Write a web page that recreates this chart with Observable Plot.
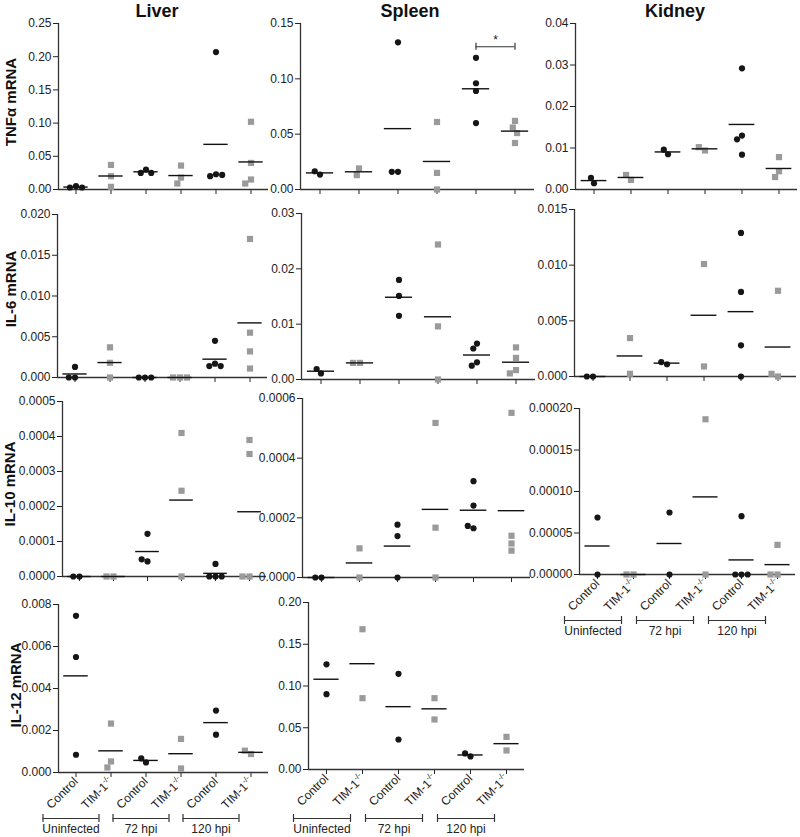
<!DOCTYPE html>
<html><head><meta charset="utf-8">
<script src="https://cdn.jsdelivr.net/npm/d3@7"></script>
<script src="https://cdn.jsdelivr.net/npm/@observablehq/plot@0.6"></script>
<style>
html,body{margin:0;padding:0;background:#fff;overflow:hidden}
#root{position:relative;width:800px;height:837px;font-family:"Liberation Sans",Arial,sans-serif}
#root svg{position:absolute}
</style></head><body><div id="root"></div>
<script>
const tissues = ["Liver", "Spleen", "Kidney"];
const cytokines = ["TNFα", "IL-6", "IL-10", "IL-12"];
const genotypes = ["Control", "TIM-1-/-"];
const timepoints = ["Uninfected", "72 hpi", "120 hpi"];

// each: [Control Uninf, TIM Uninf, Control 72, TIM 72, Control 120, TIM 120]
const liverTNF = [[0.005,0.003,0.003],[0.037,0.020,0.004],[0.030,0.025,0.025],[0.036,0.018,0.009],[0.207,0.023,0.020,0.022],[0.102,0.040,0.015,0.009]];
const spleenTNF = [[0.0135,0.0165],[0.019,0.013],[0.133,0.016,0.016],[0.061,0.015,0.0],[0.119,0.096,0.089,0.060],[0.062,0.056,0.051,0.042]];
const kidneyTNF = [[0.0015,0.0028],[0.0023,0.0035],[0.0085,0.0096],[0.0094,0.0102],[0.0292,0.0130,0.0121,0.0084],[0.0078,0.0044,0.0030]];
const liverIL6 = [[0.0013,0,0],[0.0037,0.0018,0],[0,0,0],[0,0,0],[0.0045,0.0017,0.0014,0.0014],[0.0170,0.0055,0.0032,0.0011]];
const spleenIL6 = [[0.0011,0.0019],[0.0030,0.0030],[0.0180,0.0151,0.0115],[0.0244,0.0096,0],[0.0065,0.0056,0.0031,0.0025],[0.0058,0.0039,0.0017,0.0011]];
const kidneyIL6 = [[0,0],[0.00345,0.00024],[0.0011,0.0013],[0.0101,0.0009],[0.0129,0.0076,0.0028,0],[0.0077,0,0.00024]];
const liverIL10 = [[0,0],[0,0],[0.000122,0.000043,0.000049],[0.00041,0.000245,0],[0.000036,0,0,0],[0.00039,0.00035,0,0]];
const spleenIL10 = [[0,0],[0.0000976,0],[0.000177,0.000139,0],[0.000518,0.000167,0],[0.000323,0.000241,0.000165,0.000173],[0.000552,0.00014,0.000114,0.00009]];
const kidneyIL10 = [[0.0000687,0],[0,0],[0.0000747,0],[0.000187,0],[0.0000703,0,0,0],[0.0000357,0,0]];
const liverIL12 = [[0.00746,0.0055,0.000845],[0.00233,0.000526,0.00024],[0.00048,0.00067],[0.0016,0.00019],[0.00295,0.0018],[0.00088,0.00104]];
const spleenIL12 = [[0.126,0.0902],[0.168,0.0854],[0.1146,0.0359],[0.0854,0.0599],[0.0156,0.0192],[0.0391,0.0228]];

const liverTNFTicks = ["0.00","0.05","0.10","0.15","0.20","0.25"];
const spleenTNFTicks = ["0.00","0.05","0.10","0.15"];
const kidneyTNFTicks = ["0.00","0.01","0.02","0.03","0.04"];
const liverIL6Ticks = ["0.000","0.005","0.010","0.015","0.020"];
const spleenIL6Ticks = ["0.00","0.01","0.02","0.03"];
const kidneyIL6Ticks = ["0.000","0.005","0.010","0.015"];
const liverIL10Ticks = ["0.0000","0.0001","0.0002","0.0003","0.0004","0.0005"];
const spleenIL10Ticks = ["0.0000","0.0002","0.0004","0.0006"];
const kidneyIL10Ticks = ["0.00000","0.00005","0.00010","0.00015","0.00020"];
const liverIL12Ticks = ["0.000","0.002","0.004","0.006","0.008"];
const spleenIL12Ticks = ["0.00","0.05","0.10","0.15","0.20"];

const significance = [{tissue: "Spleen", cytokine: "TNFα", from: 4, to: 5, y: 0.129, label: "*"}];

const panels = [
  {tissue: "Liver", cytokine: "TNFα", values: liverTNF, ticks: liverTNFTicks},
  {tissue: "Spleen", cytokine: "TNFα", values: spleenTNF, ticks: spleenTNFTicks},
  {tissue: "Kidney", cytokine: "TNFα", values: kidneyTNF, ticks: kidneyTNFTicks},
  {tissue: "Liver", cytokine: "IL-6", values: liverIL6, ticks: liverIL6Ticks},
  {tissue: "Spleen", cytokine: "IL-6", values: spleenIL6, ticks: spleenIL6Ticks},
  {tissue: "Kidney", cytokine: "IL-6", values: kidneyIL6, ticks: kidneyIL6Ticks},
  {tissue: "Liver", cytokine: "IL-10", values: liverIL10, ticks: liverIL10Ticks},
  {tissue: "Spleen", cytokine: "IL-10", values: spleenIL10, ticks: spleenIL10Ticks},
  {tissue: "Kidney", cytokine: "IL-10", values: kidneyIL10, ticks: kidneyIL10Ticks},
  {tissue: "Liver", cytokine: "IL-12", values: liverIL12, ticks: liverIL12Ticks},
  {tissue: "Spleen", cytokine: "IL-12", values: spleenIL12, ticks: spleenIL12Ticks}
];

// layout (page pixels): y-axis x, x-axis right end, top of y range, baseline
const layout = {
  "Liver|TNFα": {x0: 56, x1: 269, yT: 23, yB: 189},
  "Spleen|TNFα": {x0: 300, x1: 534, yT: 23, yB: 189},
  "Kidney|TNFα": {x0: 573, x1: 798, yT: 23, yB: 189},
  "Liver|IL-6": {x0: 54, x1: 269, yT: 214, yB: 377},
  "Spleen|IL-6": {x0: 299, x1: 536, yT: 213, yB: 379},
  "Kidney|IL-6": {x0: 573, x1: 796, yT: 209, yB: 376},
  "Liver|IL-10": {x0: 60, x1: 268, yT: 401, yB: 576},
  "Spleen|IL-10": {x0: 302, x1: 530, yT: 398, yB: 577},
  "Kidney|IL-10": {x0: 578, x1: 796, yT: 408, yB: 574, bracket: 46},
  "Liver|IL-12": {x0: 58, x1: 268, yT: 604, yB: 772, bracket: 46},
  "Spleen|IL-12": {x0: 308, x1: 524, yT: 602, yB: 769, bracket: 49}
};
const colTitles = {Liver: [157, 17], Spleen: [410, 17], Kidney: [675, 17]};
const rowTitles = {"TNFα": [15.5, 102], "IL-6": [16, 289], "IL-10": [15, 484], "IL-12": [21, 685]};

const groupKeys = timepoints.flatMap(t => genotypes.map(g => g + "|" + t));
const root = document.getElementById("root");
const axisColor = "#333";

function makePanel(p) {
  const L = layout[p.tissue + "|" + p.cytokine];
  const bottom = L.bracket != null;
  const ML = 62, MR = 2, MT = 12, MB = bottom ? 72 : 14;
  const W = ML + (L.x1 - L.x0) + MR;
  const H = MT + (L.yB - L.yT) + MB;
  const tickVals = p.ticks.map(Number);
  const dec = p.ticks[0].split(".")[1].length;
  const rows = p.values.flatMap((arr, i) => arr.map(v => ({group: groupKeys[i], genotype: genotypes[i % 2], value: v})));
  const ctrl = rows.filter(d => d.genotype === genotypes[0]);
  const ko = rows.filter(d => d.genotype === genotypes[1]);
  const step = (L.x1 - L.x0) / 6;
  const inset = step * 0.15;
  const sig = significance.filter(s => s.tissue === p.tissue && s.cytokine === p.cytokine)
    .map(s => ({...s, key: groupKeys[s.from], span: s.to - s.from}));
  const sigEnds = sig.flatMap(s => [{key: s.key, x: 0.5, y: s.y}, {key: s.key, x: 0.5 + s.span, y: s.y}]);
  const brackets = timepoints.map((t, i) => ({label: t, key: groupKeys[2 * i]}));

  const marks = [
    Plot.ruleY([0], {stroke: axisColor, strokeWidth: 1.3}),
    Plot.ruleX([groupKeys[0]], {fx: d => d, x: 0, stroke: axisColor, strokeWidth: 1.3}),
    Plot.dot(ctrl, Plot.dodgeX({anchor: "middle", padding: 0}, {y: "value", fx: "group", r: 3.1, fill: "#161616"})),
    Plot.dot(ko, Plot.dodgeX({anchor: "middle", padding: 0}, {y: "value", fx: "group", r: 3.5, symbol: "square", fill: "#9a9a9a"})),
    Plot.ruleY(rows, Plot.groupZ({y: "mean"}, {y: "value", fx: "group", stroke: "#111", strokeWidth: 1.4, insetLeft: inset, insetRight: inset}))
  ];
  if (sig.length) {
    marks.push(
      Plot.ruleY(sig, {fx: "key", y: "y", x1: 0.5, x2: d => 0.5 + d.span, stroke: axisColor, strokeWidth: 1.2}),
      Plot.ruleX(sigEnds, {fx: "key", x: "x", y1: "y", y2: "y", insetTop: -3.5, insetBottom: -3.5, stroke: axisColor, strokeWidth: 1.2}),
      Plot.text(sig, {fx: "key", x: d => 0.5 + d.span / 2, y: "y", text: "label", dy: -7, fontSize: 12})
    );
  }
  if (bottom) {
    marks.push(
      Plot.ruleY(brackets, {fx: "key", y: 0, x1: 0.5, x2: 1.5, insetLeft: -33, insetRight: 12, dy: L.bracket, stroke: axisColor, strokeWidth: 1.2}),
      Plot.ruleX(brackets, {fx: "key", x: 0.5, y1: 0, y2: 0, dx: -33, dy: L.bracket, insetTop: -4, insetBottom: -4, stroke: axisColor, strokeWidth: 1.2}),
      Plot.ruleX(brackets, {fx: "key", x: 1.5, y1: 0, y2: 0, dx: -12, dy: L.bracket, insetTop: -4, insetBottom: -4, stroke: axisColor, strokeWidth: 1.2}),
      Plot.text(brackets, {fx: "key", x: 1, y: 0, text: "label", dx: -22.5, dy: L.bracket + 11, fontSize: 12})
    );
  }

  const svg = Plot.plot({
    width: W, height: H,
    marginLeft: ML, marginRight: MR, marginTop: MT, marginBottom: MB,
    style: {fontSize: "12px", fontFamily: "'Liberation Sans', Arial, sans-serif", color: "#222", background: "transparent", overflow: "visible"},
    fx: {domain: groupKeys, padding: 0, axis: "bottom", label: null, tickSize: 5, tickPadding: 2,
         tickRotate: bottom ? -45 : 0, tickFormat: bottom ? (k => k.split("|")[0]) : (() => "")},
    x: {domain: [0, 1], axis: null},
    y: {domain: [0, tickVals[tickVals.length - 1]], ticks: tickVals, tickFormat: d3.format("." + dec + "f"),
        axis: "left", label: null, tickSize: 5, tickPadding: 2},
    marks
  });
  svg.style.left = (L.x0 - ML) + "px";
  svg.style.top = (L.yT - MT) + "px";
  svg.querySelectorAll("text").forEach(t => {
    if (t.textContent === "TIM-1-/-") {
      t.textContent = "";
      const a = document.createElementNS("http://www.w3.org/2000/svg", "tspan");
      a.textContent = "TIM-1";
      const b = document.createElementNS("http://www.w3.org/2000/svg", "tspan");
      b.textContent = "-/-";
      b.setAttribute("font-size", "8");
      b.setAttribute("dy", "-5");
      t.appendChild(a); t.appendChild(b);
    }
  });
  root.appendChild(svg);
}
panels.forEach(makePanel);

const overlay = d3.select(root).append("svg").attr("width", 800).attr("height", 837)
  .style("left", "0px").style("top", "0px")
  .attr("font-family", "'Liberation Sans', Arial, sans-serif").attr("fill", "#111");
tissues.forEach(t => overlay.append("text").attr("x", colTitles[t][0]).attr("y", colTitles[t][1])
  .attr("text-anchor", "middle").attr("font-size", 18).attr("font-weight", "bold").text(t));
cytokines.forEach(c => overlay.append("text")
  .attr("transform", `translate(${rowTitles[c][0]},${rowTitles[c][1]}) rotate(-90)`)
  .attr("text-anchor", "middle").attr("font-size", 15).attr("font-weight", "bold").text(c + " mRNA"));
</script></body></html>
